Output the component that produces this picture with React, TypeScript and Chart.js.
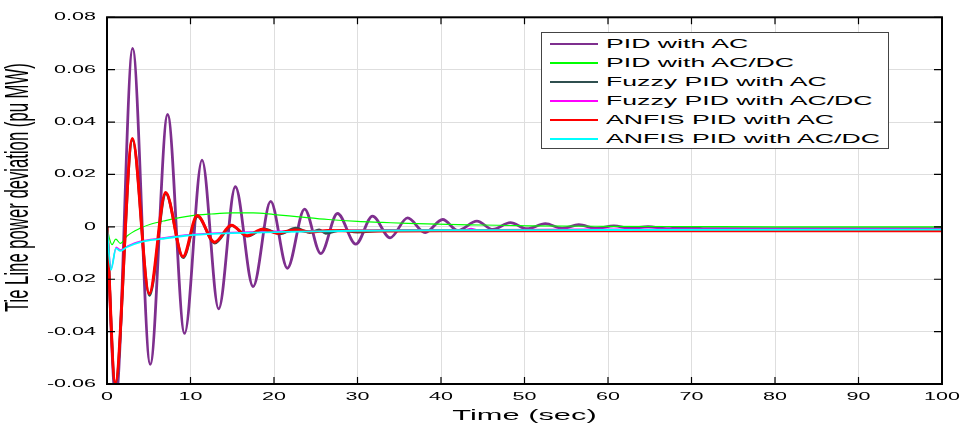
import React, { useEffect, useRef } from 'react';
import { Chart, registerables } from 'chart.js';

Chart.register(...registerables);

// ---- axis ticks ----
const xTicks = [0, 10, 20, 30, 40, 50, 60, 70, 80, 90, 100];
const yTicks = [-0.06, -0.04, -0.02, 0, 0.02, 0.04, 0.06, 0.08];
const xTitle = 'Time (sec)';
const yTitle = 'Tie Line power deviation (pu MW)';

// ---- series (time in sec, value in pu MW) ----
const pidAcT = [0, 1.05, 3.07, 5.18, 7.26, 9.29, 11.38, 13.37, 15.37, 17.5, 19.6, 21.6, 23.66, 25.6, 27.6, 29.8, 31.8, 33.9, 36.0, 38.1, 40.2, 42.0, 44.3, 46.2, 48.3, 50.3, 52.5, 54.5, 56.5, 58.6, 60.7, 62.7, 64.8, 67, 69, 72, 100];
const pidAcV = [0, -0.066, 0.0681, -0.0525, 0.0429, -0.0407, 0.0255, -0.0313, 0.0153, -0.0228, 0.0097, -0.0158, 0.0068, -0.0102, 0.0051, -0.0066, 0.0041, -0.0042, 0.0034, -0.0022, 0.0028, -0.0014, 0.0022, -0.001, 0.0016, -0.0007, 0.0012, -0.0006, 0.0008, -0.0006, 0.0004, -0.0006, 0.0001, -0.0007, -0.0003, -0.0007, -0.0007];

const pidAcDcT = [0, 0.3, 0.6, 1.05, 1.6, 2.4, 4, 5.2, 7, 10, 12.5, 15, 17.5, 20, 23, 26.5, 30, 33, 36, 39.5, 45, 50.7, 60, 70, 80, 100];
const pidAcDcV = [0, -0.0045, -0.0068, -0.0047, -0.0063, -0.0035, -0.0005, 0.001, 0.0024, 0.0042, 0.0049, 0.0053, 0.0053, 0.0047, 0.0038, 0.0028, 0.0021, 0.0017, 0.0013, 0.001, 0.0007, 0.0004, 0.0002, 0.0001, 0, 0];

const fuzzyAcT = [0, 1.0, 3.05, 5.08, 7.05, 9.12, 10.85, 12.9, 14.95, 16.85, 18.8, 20.7, 22.6, 24.3, 25.4, 26.2, 28, 30, 33, 100];
const fuzzyAcV = [0, -0.0598, 0.0332, -0.0262, 0.0127, -0.0118, 0.004, -0.0062, 0.0004, -0.0036, -0.0007, -0.0027, -0.0005, -0.0022, -0.0011, -0.0025, -0.0013, -0.002, -0.0015, -0.0015];

const fuzzyAcDcT = [0, 0.5, 1.1, 1.6, 2.5, 4, 6.5, 9.4, 12, 15, 20, 30, 40, 42.8, 43.6, 44.4, 46, 60, 100];
const fuzzyAcDcV = [0, -0.0158, -0.0078, -0.0088, -0.0073, -0.0055, -0.0043, -0.0031, -0.0025, -0.0021, -0.0017, -0.0013, -0.0012, -0.0012, -0.0006, -0.0012, -0.0011, -0.0009, -0.0008];

const anfisAcT = [0, 0.99, 3.04, 5.06, 7.02, 9.1, 10.8, 12.88, 14.9, 16.76, 18.6, 20.4, 22.5, 24.5, 26.5, 30, 40, 100];
const anfisAcV = [0, -0.0595, 0.0337, -0.0255, 0.0131, -0.0114, 0.0043, -0.0059, 0.0006, -0.0034, -0.0009, -0.0024, -0.0012, -0.0019, -0.0014, -0.0016, -0.0015, -0.0015];

const anfisAcDcT = [0, 0.48, 1.07, 1.6, 2.4, 4, 6.5, 9.35, 12, 15, 21.4, 30, 40, 60, 100];
const anfisAcDcV = [0, -0.0164, -0.0082, -0.0092, -0.0077, -0.0058, -0.0046, -0.0034, -0.0028, -0.0024, -0.0019, -0.0015, -0.0013, -0.0012, -0.0011];

const seriesNames = ['PID with AC', 'PID with AC/DC', 'Fuzzy PID with AC', 'Fuzzy PID with AC/DC', 'ANFIS PID with AC', 'ANFIS PID with AC/DC'];
const seriesT = [pidAcT, pidAcDcT, fuzzyAcT, fuzzyAcDcT, anfisAcT, anfisAcDcT];
const seriesV = [pidAcV, pidAcDcV, fuzzyAcV, fuzzyAcDcV, anfisAcV, anfisAcDcV];
const seriesColors = ['#7e2f8e', '#00ff00', '#2f4f4f', '#ff00ff', '#ff0000', '#00ffff'];
const seriesWidths = [2.8, 1.2, 2.6, 1.4, 3, 1.8];

const FONT = '"Liberation Sans", Arial, Helvetica, sans-serif';
const TICK_SIZE = 10.5;
const XTITLE_SIZE = 14;
const YTITLE_SIZE = 16.7;
const LEGEND_STRETCH = 2.05;

function stretchFor(font: string): number {
  const m = /([\d.]+)px/.exec(font);
  const size = m ? parseFloat(m[1]) : 10;
  if (Math.abs(size - YTITLE_SIZE) < 0.05) return 1.95;
  if (Math.abs(size - XTITLE_SIZE) < 0.05) return 2.2;
  return 2.05;
}

const framePlugin = {
  id: 'matlabFrame',
  beforeDraw(chart: any) {
    const ctx = chart.ctx as any;
    if (ctx.__stretched) return;
    ctx.__stretched = true;
    const orig = ctx.fillText;
    ctx.fillText = function (text: string, x: number, y: number, ...rest: any[]) {
      const sx = stretchFor(this.font);
      const m = this.getTransform();
      const p = m.transformPoint(new DOMPoint(x, y));
      this.save();
      const s = new DOMMatrix().translate(p.x, p.y).scale(sx, 1).translate(-p.x, -p.y).multiply(m);
      this.setTransform(s);
      orig.call(this, text, x, y, ...rest);
      this.restore();
    };
  },
  afterDatasetsDraw(chart: any) {
    const { ctx, chartArea, scales } = chart;
    const { left, right, top, bottom } = chartArea;
    const xs = scales.x;
    const ys = scales.y;
    ctx.save();
    ctx.strokeStyle = '#000';
    ctx.lineWidth = 1.2;
    ctx.beginPath();
    xs.ticks.forEach((t: any) => {
      const px = xs.getPixelForValue(t.value);
      ctx.moveTo(px, bottom);
      ctx.lineTo(px, bottom - 7);
      ctx.moveTo(px, top);
      ctx.lineTo(px, top + 7);
    });
    ys.ticks.forEach((t: any) => {
      const py = ys.getPixelForValue(t.value);
      ctx.moveTo(left, py);
      ctx.lineTo(left + 8, py);
      ctx.moveTo(right, py);
      ctx.lineTo(right - 8, py);
    });
    ctx.stroke();
    ctx.lineWidth = 2;
    ctx.strokeRect(left, top, right - left, bottom - top);

    // y axis title (rotated), slightly above the plot centre as in the original figure
    ctx.translate(19.5, (top + bottom) / 2 - 13);
    ctx.rotate(-Math.PI / 2);
    ctx.font = `${YTITLE_SIZE}px ${FONT}`;
    ctx.fillStyle = '#000';
    ctx.textAlign = 'center';
    ctx.textBaseline = 'middle';
    ctx.fillText(yTitle, 0, 0);
    ctx.restore();
  },
};

export default function App() {
  const canvasRef = useRef<HTMLCanvasElement | null>(null);

  useEffect(() => {
    if (!canvasRef.current) return;
    const datasets = seriesNames.map((name, i) => ({
      label: name,
      data: seriesT[i].map((t, k) => ({ x: t, y: seriesV[i][k] })),
      borderColor: seriesColors[i],
      backgroundColor: seriesColors[i],
      borderWidth: seriesWidths[i],
      pointRadius: 0,
      fill: false,
      cubicInterpolationMode: 'monotone' as const,
      order: seriesNames.length - i,
    }));

    const chart = new Chart(canvasRef.current, {
      type: 'line',
      data: { datasets },
      options: {
        animation: false,
        responsive: true,
        maintainAspectRatio: false,
        layout: { padding: { left: 0, right: 21, top: 10, bottom: 0 } },
        plugins: { legend: { display: false }, tooltip: { enabled: false } },
        scales: {
          x: {
            type: 'linear',
            min: 0,
            max: 100,
            afterBuildTicks: (s: any) => {
              s.ticks = xTicks.map((v) => ({ value: v }));
            },
            afterFit: (s: any) => {
              s.height = 41;
            },
            grid: { color: '#dedede', lineWidth: 1, drawTicks: false },
            border: { display: false },
            ticks: {
              padding: 7,
              autoSkip: false,
              maxRotation: 0,
              color: '#000',
              font: { family: FONT, size: TICK_SIZE },
              callback: (v: any) => String(v),
            },
            title: {
              display: true,
              text: xTitle,
              color: '#000',
              font: { family: FONT, size: XTITLE_SIZE },
              padding: { top: 0, bottom: 0 },
            },
          },
          y: {
            type: 'linear',
            min: -0.06,
            max: 0.08,
            afterBuildTicks: (s: any) => {
              s.ticks = yTicks.map((v) => ({ value: v }));
            },
            afterFit: (s: any) => {
              s.width = 107;
            },
            grid: { color: '#dedede', lineWidth: 1, drawTicks: false },
            border: { display: false },
            ticks: {
              padding: 11,
              color: '#000',
              font: { family: FONT, size: TICK_SIZE },
              callback: (v: any) => String(Math.round(Number(v) * 100) / 100),
            },
            title: { display: false, text: yTitle },
          },
        },
      },
      plugins: [framePlugin],
    });
    return () => chart.destroy();
  }, []);

  return (
    <div style={{ position: 'fixed', left: 0, top: 0, width: 963, height: 425, background: '#fff' }}>
      <canvas ref={canvasRef} />
      <div
        style={{
          position: 'absolute',
          left: 541,
          top: 32,
          width: 348,
          height: 117,
          border: '1px solid #444',
          background: '#fff',
          boxSizing: 'border-box',
        }}
      >
        {seriesNames.map((name, i) => (
          <div key={name} style={{ position: 'absolute', left: 0, top: 11 + i * 19, height: 0, width: '100%' }}>
            <div
              style={{
                position: 'absolute',
                left: 8,
                top: -1,
                width: 48,
                height: 0,
                borderTop: `2px solid ${seriesColors[i]}`,
              }}
            />
            <span
              style={{
                position: 'absolute',
                left: 64,
                top: -8,
                lineHeight: '16px',
                fontSize: 13,
                fontFamily: FONT,
                color: '#000',
                whiteSpace: 'nowrap',
                transform: `scaleX(${LEGEND_STRETCH})`,
                transformOrigin: 'left center',
              }}
            >
              {name}
            </span>
          </div>
        ))}
      </div>
    </div>
  );
}
